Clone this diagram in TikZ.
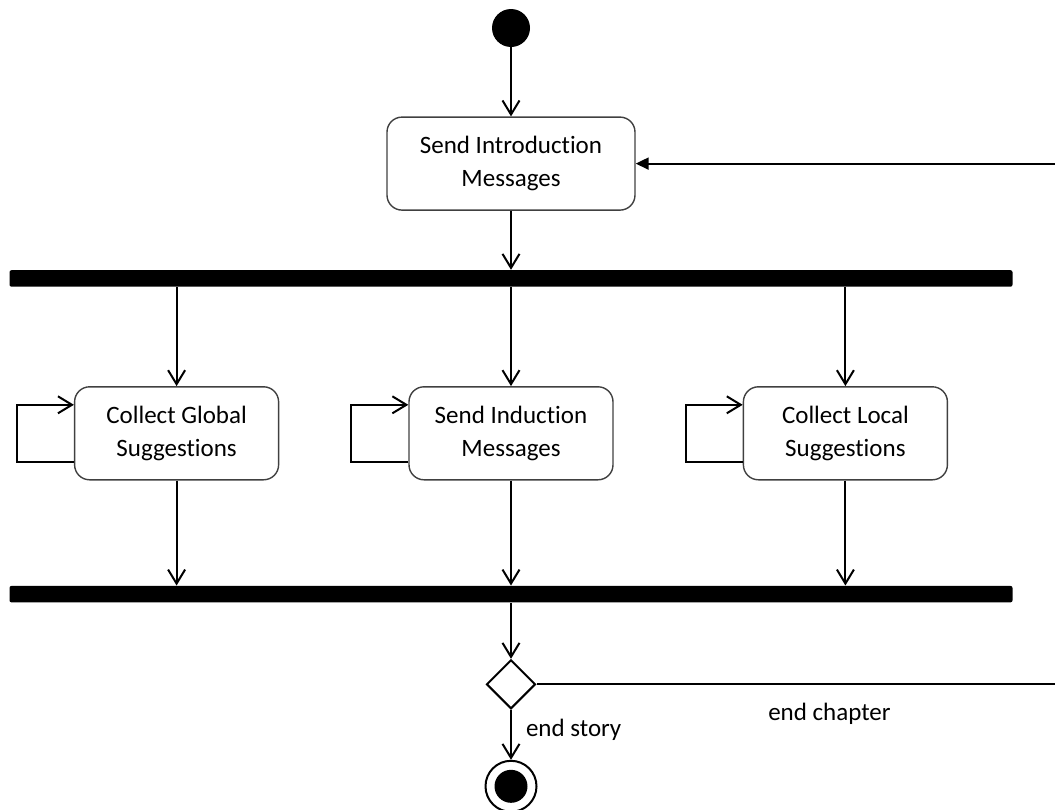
\documentclass[tikz,border=0pt]{standalone}
\usepackage{fontspec}
\setmainfont{Carlito}[Ligatures=NoCommon]
\usetikzlibrary{positioning,arrows.meta,shapes.geometric}

\begin{document}
\begin{tikzpicture}[x=0.5pt, y=-0.5pt,
  font=\fontsize{12.5}{16.5}\selectfont,
  action/.style={draw=black!75, line width=0.7pt, rounded corners=7.5pt, align=center, minimum width=102pt, minimum height=46.5pt, inner sep=2pt},
  bar/.style={fill=black, rounded corners=1pt, minimum width=501.5pt, minimum height=8.25pt, inner sep=0pt},
  arr/.style={line width=1pt, -{Straight Barb[length=7pt, width=8.5pt]}},
  retarr/.style={line width=1pt, -{Triangle[length=6.5pt, width=6pt]}},
  lbl/.style={inner sep=2pt},
  node distance=34.5pt and 64.5pt]
\useasboundingbox (0,0) rectangle (1055,809);
\node[circle, fill, minimum size=19pt, inner sep=0pt] (start) at (511,28) {};
\node[action, minimum width=124pt, below=of start] (intro) {Send Introduction\\Messages};
\node[bar, below=29.5pt of intro] (fork) {};
\node[action, below=49.5pt of fork] (induct) {Send Induction\\Messages};
\node[action, left=of induct] (global) {Collect Global\\Suggestions};
\node[action, right=of induct] (local) {Collect Local\\Suggestions};
\node[bar, below=52.5pt of induct] (join) {};
\node[diamond, draw, line width=1pt, minimum size=24.5pt, inner sep=0pt, below=28pt of join] (choice) {};
\node[circle, draw, line width=1pt, minimum size=25.5pt, inner sep=0pt, below=25pt of choice,
  path picture={\fill (path picture bounding box.center) circle (8.25pt);}] (stop) {};
\coordinate (rim) at (1055,0);
% flow
\draw[arr] (start) -- (intro);
\draw[arr] (intro) -- (intro |- fork.north);
\foreach \act in {global, induct, local} {
  \draw[arr] (fork.south -| \act.north) -- (\act.north);
  \draw[arr] (\act.south) -- (\act.south |- join.north);
  \draw[arr] ([yshift=-14.25pt]\act.west) -- ++(-28.5pt,0) |- ([yshift=14.25pt]\act.west);
}
\draw[arr] (join.south -| choice.north) -- (choice.north);
\draw[arr] (choice) -- node[lbl, right=5pt, pos=0.4]{end story} (stop);
% loop back
\draw[line width=1pt] (choice.east) -- node[lbl, below=7pt, pos=0.565]{end chapter} (choice.east -| rim);
\draw[retarr] (rim |- intro) -- (intro.east);
\end{tikzpicture}
\end{document}
